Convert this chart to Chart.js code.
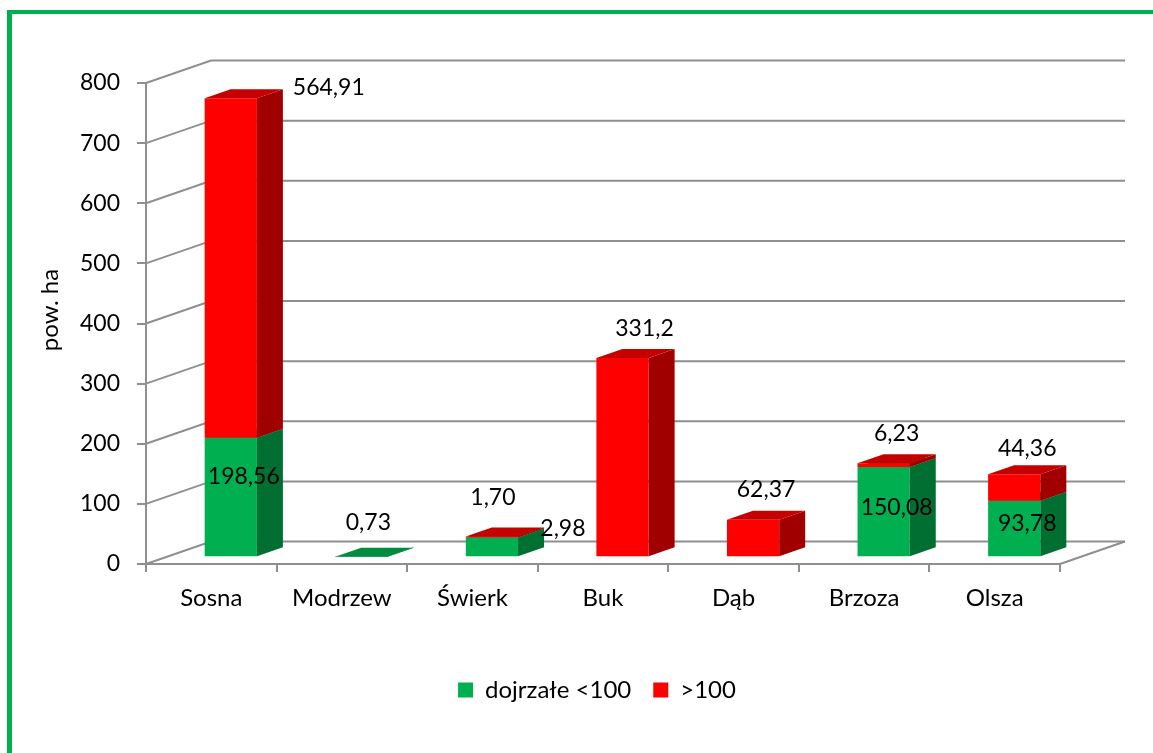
<!DOCTYPE html>
<html>
<head>
<meta charset="utf-8">
<script src="https://cdn.jsdelivr.net/npm/chart.js@4.4.1/dist/chart.umd.min.js"></script>
<style>
  html, body { margin: 0; padding: 0; background: #fff; overflow: hidden; }
  #frame {
    position: absolute; left: 7px; top: 10px; width: 1200px; height: 800px;
    border-left: 5px solid #00b050; border-top: 4px solid #00b050;
  }
  #chart { position: absolute; left: 0; top: 0; }
</style>
</head>
<body>
<div id="frame"></div>
<canvas id="chart" width="1153" height="753"></canvas>
<script>
const categories = ['Sosna', 'Modrzew', 'Świerk', 'Buk', 'Dąb', 'Brzoza', 'Olsza'];
const matureValues = [198.56, 0.73, 33, 0, 0, 150.08, 93.78];
const overValues = [564.91, 0, 1.70, 331.2, 62.37, 6.23, 44.36];
const matureLabels = ['198,56', '0,73', '2,98', '', '', '150,08', '93,78'];
const overLabels = ['564,91', '', '1,70', '331,2', '62,37', '6,23', '44,36'];
const seriesNames = ['dojrzałe <100', '>100'];

const FONT = 'Lato';
const NUM_SIZE = 23;
const TEXT_SIZE = 24;
const gridColor = '#8f8f8f';
// wall depth of the 3D box, bars sit between 30% and 70% of it
const DEPTH = { x: 65, y: -22.5 };
const BAR_FRONT = 0.3;
const BAR_DEPTH = 0.4;

const faceColors = [
    { front: '#00b050', side: '#006f31', top: '#008c3e' },
    { front: '#ff0000', side: '#a00000', top: '#c40000' }
];

// hand placement of a few labels, like the original
const labelNudge = {
    '0-0': [0, -16],
    '1-0': [85, 19],
    '0-1': [-6, -29],
    '0-2': [58, -14],
    '1-2': [-12, -9],
    '1-3': [9, 0],
    '1-6': [0, 4]
};

function poly(ctx, pts, fill) {
    ctx.beginPath();
    ctx.moveTo(pts[0][0], pts[0][1]);
    for (let i = 1; i < pts.length; i++) ctx.lineTo(pts[i][0], pts[i][1]);
    ctx.closePath();
    ctx.fillStyle = fill;
    ctx.fill();
}

function boxOf(chart, di, i) {
    const el = chart.getDatasetMeta(di).data[i];
    const { x, y, base, width } = el.getProps(['x', 'y', 'base', 'width'], true);
    const fx = DEPTH.x * BAR_FRONT, fy = DEPTH.y * BAR_FRONT;
    return { L: x - width / 2 + fx, R: x + width / 2 + fx, T: y + fy, B: base + fy };
}

const threeD = {
    id: 'threeD',
    beforeDatasetsDraw(chart) {
        const { ctx, chartArea: a, scales: { y } } = chart;
        ctx.save();
        ctx.strokeStyle = gridColor;
        ctx.lineWidth = 2;
        // side wall + back wall grid
        y.ticks.forEach(t => {
            const py = y.getPixelForValue(t.value);
            ctx.beginPath();
            ctx.moveTo(a.left, py);
            ctx.lineTo(a.left + DEPTH.x, py + DEPTH.y);
            ctx.lineTo(a.right + DEPTH.x, py + DEPTH.y);
            ctx.stroke();
        });
        const y0 = y.getPixelForValue(0);
        ctx.beginPath();
        ctx.moveTo(a.right, y0);
        ctx.lineTo(a.right + DEPTH.x, y0 + DEPTH.y);
        ctx.stroke();

        const bx = DEPTH.x * BAR_DEPTH, by = DEPTH.y * BAR_DEPTH;
        categories.forEach((c, i) => {
            chart.data.datasets.forEach((ds, di) => {
                if (!ds.data[i]) return;
                const { L, R, T, B } = boxOf(chart, di, i);
                const col = faceColors[di];
                poly(ctx, [[L, T], [R, T], [R, B], [L, B]], col.front);
                poly(ctx, [[R, T], [R + bx, T + by], [R + bx, B + by], [R, B]], col.side);
                poly(ctx, [[L, T], [R, T], [R + bx, T + by], [L + bx, T + by]], col.top);
            });
        });
        ctx.restore();
        return false;
    },
    afterDraw(chart) {
        const { ctx } = chart;
        const bx = DEPTH.x * BAR_DEPTH, by = DEPTH.y * BAR_DEPTH;
        const texts = [matureLabels, overLabels];
        ctx.save();
        ctx.font = `${NUM_SIZE}px ${FONT}`;
        ctx.fillStyle = '#000';
        ctx.textAlign = 'center';
        ctx.textBaseline = 'middle';
        categories.forEach((c, i) => {
            texts.forEach((arr, di) => {
                const txt = arr[i];
                if (!txt) return;
                const { L, R, T, B } = boxOf(chart, di, i);
                let x = (L + R) / 2 + bx / 2;
                let y = di === 0 ? (T + B) / 2 + by / 2 : T - 30;
                const n = labelNudge[di + '-' + i];
                if (n) { x += n[0]; y += n[1]; }
                ctx.fillText(txt, x, y);
            });
        });
        // y axis title
        ctx.font = `${TEXT_SIZE}px ${FONT}`;
        ctx.translate(50, 310);
        ctx.rotate(-Math.PI / 2);
        ctx.fillText('pow. ha', 0, 0);
        ctx.restore();
    },
    afterLayout(chart) {
        chart.legend.left -= 6;
        chart.legend.right -= 6;
    }
};

new Chart(document.getElementById('chart'), {
    type: 'bar',
    data: {
        labels: categories,
        datasets: [
            { label: seriesNames[0], data: matureValues, backgroundColor: faceColors[0].front },
            { label: seriesNames[1], data: overValues, backgroundColor: faceColors[1].front }
        ]
    },
    options: {
        responsive: false,
        animation: false,
        barPercentage: 0.4,
        categoryPercentage: 1,
        layout: { padding: { left: 10, top: 83, right: 93, bottom: 41 } },
        scales: {
            x: {
                stacked: true,
                afterFit(scale) { scale.height = 92; },
                grid: { drawOnChartArea: false, tickLength: 8, color: gridColor, lineWidth: 2, offset: true },
                border: { display: true, color: gridColor, width: 2 },
                ticks: { color: '#000', padding: 12, font: { family: FONT, size: TEXT_SIZE } }
            },
            y: {
                stacked: true,
                min: 0,
                max: 800,
                afterFit(scale) { scale.width = 136; },
                grid: { drawOnChartArea: false, tickLength: 9, color: gridColor, lineWidth: 2 },
                border: { display: true, color: gridColor, width: 2 },
                ticks: { stepSize: 100, color: '#000', padding: 17, font: { family: FONT, size: NUM_SIZE } }
            }
        },
        plugins: {
            tooltip: { enabled: false },
            legend: {
                position: 'bottom',
                fullSize: false,
                labels: {
                    color: '#000',
                    boxWidth: 15,
                    boxHeight: 15,
                    padding: 22,
                    font: { family: FONT, size: TEXT_SIZE }
                }
            }
        }
    },
    plugins: [threeD]
});
</script>
</body>
</html>
